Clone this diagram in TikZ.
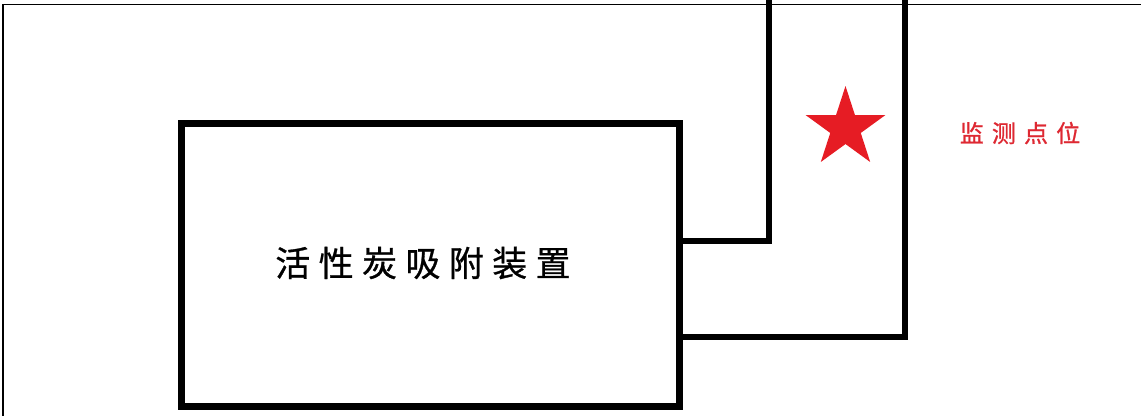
\documentclass[tikz,border=0pt]{standalone}
\usepackage{fontspec}
\newfontfamily\cjk{Noto Sans CJK SC}
\usetikzlibrary{shapes.geometric}
\definecolor{starred}{RGB}{230,28,36}
\definecolor{labelred}{RGB}{222,40,50}
\tikzset{
  device/.style={draw=black, line width=7pt, minimum width=498pt, minimum height=283pt, inner sep=0pt},
  devtext/.style={inner sep=0pt, font=\cjk\fontsize{35}{40}\selectfont\addfontfeature{LetterSpace=24,FakeBold=0.8}},
  pipe/.style={draw=black, line width=6pt},
  frameline/.style={draw=black, line width=1.5pt},
  marker/.style={star, star points=5, star point ratio=2.618, fill=starred, draw=none, minimum size=84pt, inner sep=0pt},
  lab/.style={text=labelred, font=\cjk\fontsize{24}{27}\selectfont\addfontfeature{LetterSpace=34,FakeBold=1}, inner sep=0pt}
}
\begin{document}
\begin{tikzpicture}[x=1pt,y=-1pt]
\useasboundingbox (0,0) rectangle (1141,416);
\fill[white] (0,0) rectangle (1141,416);
% frame (top and left edges)
\coordinate (ftl) at (3,4.5);
\coordinate (ftr) at (1141,4.5);
\coordinate (fbl) at (3,416);
\draw[frameline] (ftr) -- (ftl) -- (fbl);
% device
\node[device] (dev) at (430.5,264.75) {};
\node[devtext] (devlabel) at (423,263) {活性炭吸附装置};
% pipes
\coordinate (p1a) at (679.5,240.5);
\coordinate (p1b) at (772,240.5);
\coordinate (p1c) at (769,240.5);
\coordinate (p1d) at (769,0);
\coordinate (p2a) at (679.5,336.5);
\coordinate (p2b) at (908,336.5);
\coordinate (p2c) at (905,336.5);
\coordinate (p2d) at (905,0);
\draw[pipe] (p1a) -- (p1b);
\draw[pipe] (p1c) -- (p1d);
\draw[pipe] (p2a) -- (p2b);
\draw[pipe] (p2c) -- (p2d);
% monitoring point
\node[marker] (st) at (845.5,128) {};
\node[lab] (lb) at (1020,133) {监测点位};
\end{tikzpicture}
\end{document}
